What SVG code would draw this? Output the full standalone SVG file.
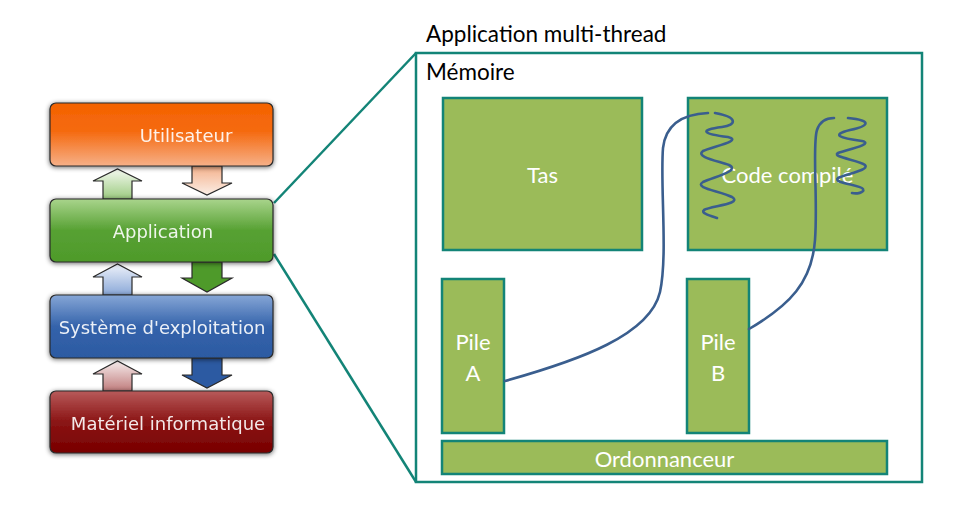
<svg xmlns="http://www.w3.org/2000/svg" width="959" height="509" viewBox="0 0 959 509">
<defs>
<style>
.lt{font-family:"DejaVu Sans",sans-serif;font-size:18px;fill:#ffffff;fill-opacity:0.9}
.rt{font-family:Lato,"Open Sans",sans-serif;font-size:22px;fill:#ffffff}
.hd{font-family:Lato,"Open Sans",sans-serif;font-size:22.5px;fill:#000000}
.blk{stroke:#2a2a2a;stroke-width:1.2}
.mem{fill:#9bbb59;stroke:#138477;stroke-width:2.5}
.thr{fill:none;stroke:#3a5e8e;stroke-width:2.6;stroke-linecap:round}
.zoom{stroke:#138477;stroke-width:2.5;fill:none}
</style>
<filter id="sh" x="-10%" y="-20%" width="120%" height="140%">
<feGaussianBlur in="SourceAlpha" stdDeviation="2.5"/>
<feOffset dx="0" dy="1" result="b"/>
<feComponentTransfer><feFuncA type="linear" slope="0.6"/></feComponentTransfer>
<feMerge><feMergeNode/><feMergeNode in="SourceGraphic"/></feMerge>
</filter>
<linearGradient id="gU" x1="0" y1="0" x2="0" y2="1">
<stop offset="0" stop-color="#f46200"/><stop offset="0.45" stop-color="#f56a10"/><stop offset="1" stop-color="#f6b088"/>
</linearGradient>
<linearGradient id="gA" x1="0" y1="0" x2="0" y2="1">
<stop offset="0" stop-color="#a9d48c"/><stop offset="0.5" stop-color="#57a133"/><stop offset="1" stop-color="#4e9a2a"/>
</linearGradient>
<linearGradient id="gS" x1="0" y1="0" x2="0" y2="1">
<stop offset="0" stop-color="#86a6d6"/><stop offset="0.5" stop-color="#3463ab"/><stop offset="1" stop-color="#2c5aa2"/>
</linearGradient>
<linearGradient id="gM" x1="0" y1="0" x2="0" y2="1">
<stop offset="0" stop-color="#b85a5a"/><stop offset="0.5" stop-color="#8a1414"/><stop offset="1" stop-color="#780000"/>
</linearGradient>
<linearGradient id="aUd" x1="0" y1="0" x2="0" y2="1">
<stop offset="0" stop-color="#f4b08a"/><stop offset="1" stop-color="#fbeee6"/>
</linearGradient>
<linearGradient id="aAu" x1="0" y1="0" x2="0" y2="1">
<stop offset="0" stop-color="#f4f9f0"/><stop offset="1" stop-color="#9ccb80"/>
</linearGradient>
<linearGradient id="aSu" x1="0" y1="0" x2="0" y2="1">
<stop offset="0" stop-color="#eef2fa"/><stop offset="1" stop-color="#8aa8d8"/>
</linearGradient>
<linearGradient id="aMu" x1="0" y1="0" x2="0" y2="1">
<stop offset="0" stop-color="#f6ecec"/><stop offset="1" stop-color="#c07c7c"/>
</linearGradient>
</defs>

<g id="connectors">
<path class="blk" fill="url(#aAu)" d="M103,199 V181 H93 L117.5,169 L142,181 H132 V199 Z"/>
<path class="blk" fill="url(#aUd)" d="M192,166 V183 H182 L207,195 L232,183 H222 V166 Z"/>
<path class="blk" fill="url(#aSu)" d="M103,295 V277 H93 L117.5,264 L142,277 H132 V295 Z"/>
<path class="blk" fill="#4e9a2a" d="M192,262 V278 H182 L207,292 L232,278 H222 V262 Z"/>
<path class="blk" fill="url(#aMu)" d="M103,391 V374 H93 L117.5,361 L142,374 H132 V391 Z"/>
<path class="blk" fill="#2c5aa2" d="M192,358 V375 H182 L207,388 L232,375 H222 V358 Z"/>
<line class="zoom" x1="274" y1="203" x2="416" y2="53"/>
<line class="zoom" x1="274" y1="254" x2="416" y2="482"/>
</g>

<g id="utilisateur" filter="url(#sh)">
<rect class="blk" x="50" y="103" width="223" height="63" rx="6" fill="url(#gU)"/>
<text class="lt" x="186" y="142" text-anchor="middle">Utilisateur</text>
</g>
<g id="application" filter="url(#sh)">
<rect class="blk" x="50" y="199" width="223" height="63" rx="6" fill="url(#gA)"/>
<text class="lt" x="163" y="238" text-anchor="middle">Application</text>
</g>
<g id="systeme" filter="url(#sh)">
<rect class="blk" x="50" y="295" width="223" height="63" rx="6" fill="url(#gS)"/>
<text class="lt" x="162" y="334" text-anchor="middle">Système d'exploitation</text>
</g>
<g id="materiel" filter="url(#sh)">
<rect class="blk" x="50" y="391" width="223" height="62" rx="6" fill="url(#gM)"/>
<text class="lt" x="168" y="430" text-anchor="middle">Matériel informatique</text>
</g>

<g id="app-multithread">
<text class="hd" x="426" y="42">Application multi-thread</text>
<rect x="416" y="53" width="506" height="429" fill="none" stroke="#138477" stroke-width="2.5"/>
<text class="hd" x="426" y="80">Mémoire</text>
</g>

<g id="tas">
<rect class="mem" x="443" y="98" width="199" height="152"/>
<text class="rt" x="542.5" y="183" text-anchor="middle">Tas</text>
</g>
<g id="code">
<rect class="mem" x="688" y="98" width="199" height="152"/>
<text class="rt" x="787.5" y="183" text-anchor="middle">Code compilé</text>
</g>
<g id="pileA">
<rect class="mem" x="442" y="279" width="62" height="154"/>
<text class="rt" x="473" y="350" text-anchor="middle">Pile</text>
<text class="rt" x="473" y="381" text-anchor="middle">A</text>
</g>
<g id="pileB">
<rect class="mem" x="687" y="279" width="62" height="154"/>
<text class="rt" x="718" y="350" text-anchor="middle">Pile</text>
<text class="rt" x="718" y="381" text-anchor="middle">B</text>
</g>
<g id="ordonnanceur">
<rect class="mem" x="442" y="441" width="445" height="33"/>
<text class="rt" x="664.5" y="467" text-anchor="middle">Ordonnanceur</text>
</g>

<g id="threads">
<path class="thr" d="M505,381 C580,360 650,335 660,292 C668,255 660,185 663,148 C666,122 685,114 708,113"/>
<path class="thr" d="M715,113 C738,117 737,125 722,127 C698,130 703,134 728,137 C744,141 710,147 703,151 C695,157 718,161 729,165 C741,171 713,177 703,182 C693,188 721,191 732,197 C743,204 711,206 704,210 C700,213 711,216 717,218"/>
<path class="thr" d="M749,329 C790,305 812,282 815,240 C818,200 812,145 817,130 C820,121 826,118 834,118"/>
<path class="thr" d="M848,118 C872,120 870,126 850,130 C830,135 840,138 862,141 C875,144 846,150 838,153 C831,157 859,160 865,165 C870,170 846,174 838,178 C832,183 861,185 863,189 C865,193 856,194 852,193"/>
</g>
</svg>
